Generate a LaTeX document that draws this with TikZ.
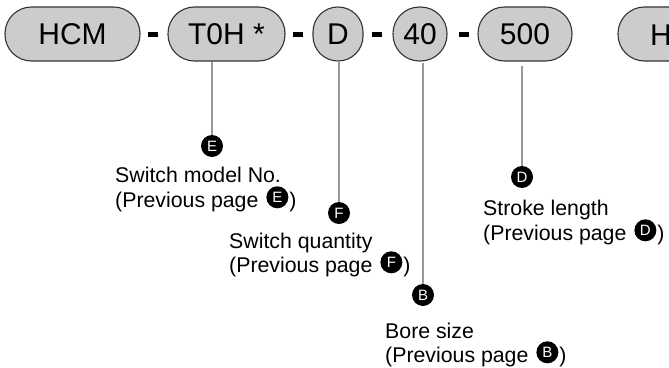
\documentclass[tikz,border=0pt]{standalone}
\usepackage{fontspec}
\setmainfont{Liberation Sans}
\definecolor{pillgray}{HTML}{CCCCCC}
\definecolor{linegray}{HTML}{999999}
\definecolor{edgegray}{HTML}{333333}
\newcommand{\mkcirc}[1]{\tikz[baseline={([yshift=1.5pt]cc.south)}]\node[bullet](cc){#1};}
\begin{document}
\begin{tikzpicture}[x=1pt,y=-1pt,
  pill/.style={draw=edgegray,line width=1.1pt,fill=pillgray,rectangle,rounded corners=26.5pt,
    minimum height=54pt,inner sep=0pt,font=\fontsize{30}{30}\selectfont},
  dashbar/.style={fill=black,rectangle,minimum width=10pt,minimum height=5pt,inner sep=0pt},
  bullet/.style={circle,fill=black,text=white,inner sep=0pt,minimum size=22pt,
    font=\fontsize{15}{15}\selectfont},
  lbl/.style={anchor=base west,inner sep=0pt,font=\fontsize{21.3}{25}\selectfont},
  lead/.style={draw=linegray,line width=2.5pt}]
\useasboundingbox (0,0) rectangle (669,367);
% pills
\node[pill,minimum width=135pt] (hcm) at (72.5,34) {HCM};
\node[pill,minimum width=117pt] (toh) at (226.5,34) {T0H *};
\node[pill,minimum width=50pt,rounded corners=24.9pt] (d) at (338,34) {D};
\node[pill,minimum width=54pt] (forty) at (420,34) {40};
\node[pill,minimum width=94pt] (five) at (525,34) {500};
\begin{scope}
\clip (0,0) rectangle (669,367);
\node[pill,minimum width=135pt] (hnext) at (685.5,34) {};
\node[anchor=base west,inner sep=0pt,font=\fontsize{30}{30}\selectfont] (htext) at (650,45) {H};
\end{scope}
% dashes
\node[dashbar] (d1) at (153,34.5) {};
\node[dashbar] (d2) at (298,34.5) {};
\node[dashbar] (d3) at (377,34.5) {};
\node[dashbar] (d4) at (463.5,34.5) {};
% bullets
\node[bullet] (cE) at (212,146) {E};
\node[bullet] (cF) at (339,213) {F};
\node[bullet] (cD) at (522,177) {D};
\node[bullet] (cB) at (423,295) {B};
% leads
\draw[lead] (toh.south -| cE) -- (cE.north);
\draw[lead] (d.south -| cF) -- (cF.north);
\draw[lead] ([yshift=-1pt]forty.south -| cB) -- (cB.north);
\draw[lead] ([yshift=-4pt]five.south -| cD) -- (cD.north);
% labels
\node[lbl] (e1) at (115,182) {Switch model No.};
\node[lbl] (e2) at (115,207) {(Previous page \hspace{2pt}\mkcirc{E}\hspace{1pt})};
\node[lbl] (f1) at (229,248) {Switch quantity};
\node[lbl] (f2) at (229,272) {(Previous page \hspace{2pt}\mkcirc{F}\hspace{1pt})};
\node[lbl] (s1) at (483,215) {Stroke length};
\node[lbl] (s2) at (483,240) {(Previous page \hspace{2pt}\mkcirc{D}\hspace{1pt})};
\node[lbl] (b1) at (385,338) {Bore size};
\node[lbl] (b2) at (385,362) {(Previous page \hspace{2pt}\mkcirc{B}\hspace{1pt})};
\end{tikzpicture}
\end{document}
